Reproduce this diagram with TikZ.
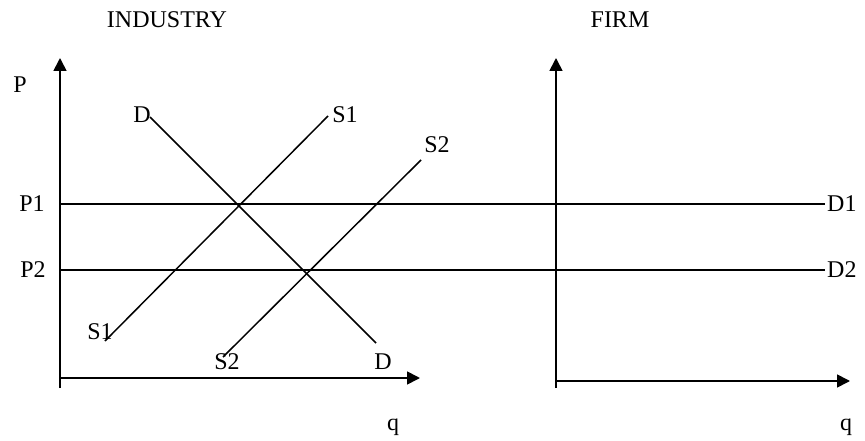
\documentclass[tikz,border=0pt]{standalone}
\usepackage{fontspec}
\setmainfont{Liberation Serif}
\usepackage{tikz}
\usetikzlibrary{arrows.meta, positioning}

\begin{document}
\begin{tikzpicture}[
  x=1pt, y=-1pt,
  lbl/.style={font=\fontsize{24}{28}\selectfont, inner sep=0pt},
  axis/.style={line width=1.7pt, -{Triangle[length=13pt, width=13pt]}},
  curve/.style={line width=1.5pt}
]
  \useasboundingbox (0,0) rectangle (865,441);

  % industry panel
  \coordinate (o1) at (60,378);
  \coordinate (y1b) at (60,388);
  \coordinate (y1t) at (60,58);
  \coordinate (x1e) at (420,378);
  \draw[axis] (y1b) -- (y1t);
  \draw[axis] (o1) -- (x1e);

  % firm panel
  \coordinate (o2) at (556,381);
  \coordinate (y2b) at (556,388);
  \coordinate (y2t) at (556,58);
  \coordinate (x2e) at (850,381);
  \draw[axis] (y2b) -- (y2t);
  \draw[axis] (o2) -- (x2e);

  % price lines
  \coordinate (p1a) at (60,204);
  \coordinate (p1b) at (825,204);
  \coordinate (p2a) at (60,270);
  \coordinate (p2b) at (825,270);
  \draw[curve] (p1a) -- (p1b);
  \draw[curve] (p2a) -- (p2b);

  % demand and supply
  \coordinate (dt) at (150,117);
  \coordinate (db) at (376,343);
  \coordinate (s1b) at (105,341);
  \coordinate (s1t) at (328,116);
  \coordinate (s2b) at (223,357);
  \coordinate (s2t) at (421,160);
  \draw[curve] (dt) -- (db);
  \draw[curve] (s1b) -- (s1t);
  \draw[curve] (s2b) -- (s2t);

  % labels
  \node[lbl] (ind) at (167,20) {INDUSTRY};
  \node[lbl] (firm) at (620,20) {FIRM};
  \node[lbl] (plab) at (20,85) {P};
  \node[lbl] (p1lab) at (32,204) {P1};
  \node[lbl] (p2lab) at (33,270) {P2};
  \node[lbl] (dtlab) at (142,115) {D};
  \node[lbl] (dblab) at (383,362) {D};
  \node[lbl] (s1tlab) at (345,115) {S1};
  \node[lbl] (s1blab) at (100,332) {S1};
  \node[lbl] (s2tlab) at (437,145) {S2};
  \node[lbl] (s2blab) at (227,362) {S2};
  \node[lbl, anchor=west] (d1lab) at (827,204) {D1};
  \node[lbl, anchor=west] (d2lab) at (827,270) {D2};
  \node[lbl] (q1lab) at (393,427) {q};
  \node[lbl] (q2lab) at (846,427) {q};
\end{tikzpicture}
\end{document}
